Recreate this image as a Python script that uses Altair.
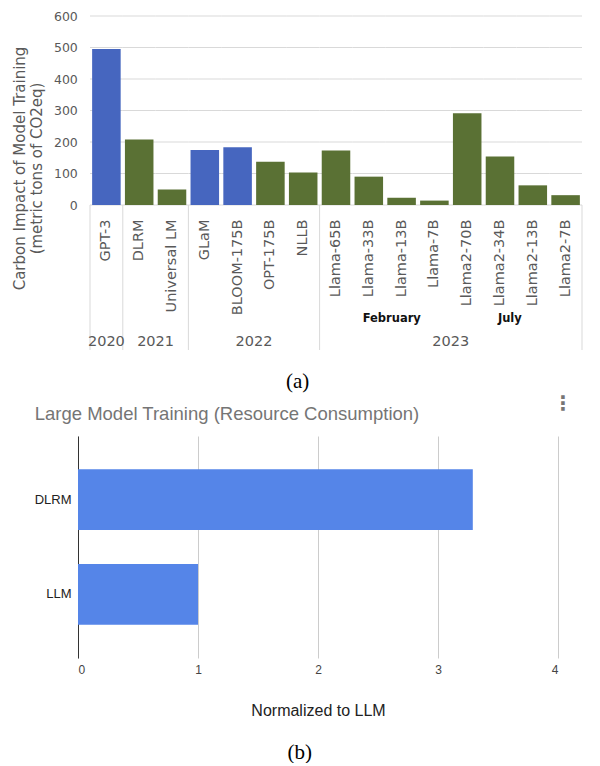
import altair as alt
import pandas as pd

# ---------------- data (a) ----------------
models = ["GPT-3", "DLRM", "Universal LM", "GLaM", "BLOOM-175B", "OPT-175B", "NLLB",
          "Llama-65B", "Llama-33B", "Llama-13B", "Llama-7B",
          "Llama2-70B", "Llama2-34B", "Llama2-13B", "Llama2-7B"]
carbon = [495, 208, 49, 175, 183, 137, 103, 173, 90, 23, 14, 291.4, 153.9, 62.4, 31.2]
groups = ["blue", "green", "green", "blue", "blue", "green", "green",
          "green", "green", "green", "green", "green", "green", "green", "green"]
y_ticks = [0, 100, 200, 300, 400, 500, 600]

# group separators (start of band) and the right edge (end of band)
sep_start = ["GPT-3", "DLRM", "GLaM", "Llama-65B"]
sep_end = ["Llama2-7B"]

# year labels: (label, anchor model)
year_mid = [("2020", "GPT-3")]
year_start = [("2021", "Universal LM"), ("2022", "OPT-175B"), ("2023", "Llama2-70B")]
month_feb = [("February", "Llama-13B")]
month_jul = [("July", "Llama2-34B")]

# ---------------- data (b) ----------------
cats = ["DLRM", "LLM"]
vals = [3.29, 1.0]
x_ticks_b = [0, 1, 2, 3, 4]

BLUE = "#4666bf"
GREEN = "#5a7134"
GREY_TXT = "#595959"
GRID = "#d9d9d9"
F = "DejaVu Sans"

XSCALE = alt.Scale(paddingInner=0, paddingOuter=0, range=[12, 504])
YSCALE = alt.Scale(domain=[0, 600])

XAX = alt.Axis(labelAngle=270, labelAlign="right", labelBaseline="middle",
               labelPadding=14, labelFont=F, labelFontSize=14.5,
               labelColor=GREY_TXT, ticks=False, tickSize=0,
               domain=False, grid=False, labelLimit=250, title=None)
YAX = alt.Axis(values=y_ticks, grid=False, domain=False, offset=-12,
               ticks=False, tickSize=0, labelPadding=12.7, labelFont=F,
               labelFontSize=12.5, labelColor=GREY_TXT,
               title=["Carbon Impact of Model Training", "(metric tons of CO2eq)"],
               titleFont=F, titleFontSize=15, titleFontWeight="normal",
               titleColor=GREY_TXT, titleX=-66, titleY=152,
               titleBaseline="alphabetic", titleAlign="center",
               titleAngle=270, titleLineHeight=17.5)

top_df = pd.DataFrame({"model": models, "carbon": carbon, "group": groups})


def xm(bp=0.5):
    return alt.X("model:N", sort=models, title=None, bandPosition=bp, scale=XSCALE, axis=XAX)


# horizontal gridlines: one segment per band so that they span the bar area only
grid_rows = [{"v": v, "model": m} for v in y_ticks for m in models]
grid = alt.Chart(pd.DataFrame(grid_rows)).mark_rule(color=GRID, strokeWidth=1).encode(
    x=xm(0), x2=alt.X2("model", bandPosition=1),
    y=alt.Y("v:Q", scale=YSCALE, axis=YAX))

bars = alt.Chart(top_df).mark_bar(width={"band": 0.87}).encode(
    x=xm(0.5),
    y=alt.Y("carbon:Q", scale=YSCALE, axis=YAX),
    color=alt.Color("group:N", scale=alt.Scale(domain=["blue", "green"], range=[BLUE, GREEN]),
                    legend=None),
)

seps_a = alt.Chart(pd.DataFrame({"model": sep_start})).mark_rule(color=GRID, strokeWidth=1).encode(
    x=xm(0), y=alt.value(189), y2=alt.value(334))
seps_b = alt.Chart(pd.DataFrame({"model": sep_end})).mark_rule(color=GRID, strokeWidth=1).encode(
    x=xm(1), y=alt.value(189), y2=alt.value(334))


def label_layer(items, bp, yv, size, weight, color):
    df = pd.DataFrame({"label": [a for a, b in items], "model": [b for a, b in items]})
    return alt.Chart(df).mark_text(font=F, fontSize=size, fontWeight=weight, color=color,
                                   baseline="middle", align="center").encode(
        x=xm(bp), y=alt.value(yv), text="label:N")


yl1 = label_layer(year_mid, 0.5, 326, 14.5, "normal", GREY_TXT)
yl2 = label_layer(year_start, 0, 326, 14.5, "normal", GREY_TXT)
ml1 = label_layer(month_feb, 0.2, 303, 11.5, "bold", "#111111")
ml2 = label_layer(month_jul, 0.8, 303, 11.5, "bold", "#111111")

cap_a = alt.Chart(pd.DataFrame({"t": ["(a)"]})).mark_text(
    font="Liberation Serif", fontSize=21, color="#000000", baseline="middle", align="center").encode(
    x=alt.value(219.7), y=alt.value(366), text="t:N")

top = alt.layer(grid, bars, seps_a, seps_b, yl1, yl2, ml1, ml2, cap_a).properties(width=504, height=189)

# ---------------- chart (b) ----------------
bot_df = pd.DataFrame({"cat": cats, "val": vals})
FB = "Liberation Sans"

bbars = alt.Chart(bot_df).mark_bar(color="#5585e8").encode(
    x=alt.X("val:Q", scale=alt.Scale(domain=[0, 4]),
            axis=alt.Axis(values=x_ticks_b, grid=True, gridColor="#cccccc", domain=False,
                          ticks=False, tickSize=0, labelPadding=6, labelFont=FB,
                          labelFontSize=12, labelColor="#444444",
                          title="Normalized to LLM", titleFont=FB, titleFontSize=16,
                          titleFontWeight="normal", titleColor="#222222", titlePadding=27)),
    y=alt.Y("cat:N", sort=cats, title=None,
            scale=alt.Scale(paddingInner=0.36, paddingOuter=0.35),
            axis=alt.Axis(domain=True, domainColor="#333333", ticks=False, tickSize=0,
                          labelPadding=7, labelFont=FB, labelFontSize=13,
                          labelColor="#222222", grid=False)),
)

btitle = alt.Chart(pd.DataFrame({"t": ["Large Model Training (Resource Consumption)"]})).mark_text(
    font=FB, fontSize=18.5, color="#757575", align="left", baseline="middle").encode(
    x=alt.value(-43.3), y=alt.value(-22), text="t:N")

dots = alt.Chart(pd.DataFrame({"t": ["\u22ee"]})).mark_text(
    font=F, fontSize=20, fontWeight="bold", color="#757575", align="center", baseline="middle").encode(
    x=alt.value(484.7), y=alt.value(-32), text="t:N")

cap_b = alt.Chart(pd.DataFrame({"t": ["(b)"]})).mark_text(
    font="Liberation Serif", fontSize=21, color="#000000", baseline="middle", align="center").encode(
    x=alt.value(221.7), y=alt.value(317), text="t:N")

bottom = alt.layer(bbars, btitle, dots, cap_b).properties(width=480, height=222)

chart = alt.vconcat(top, bottom, spacing=2).properties(
    padding={"left": 4, "top": 2, "right": 5, "bottom": 0}
).configure_view(strokeWidth=0)

chart.save("out.html", embed_options={"renderer": "svg", "actions": False})
